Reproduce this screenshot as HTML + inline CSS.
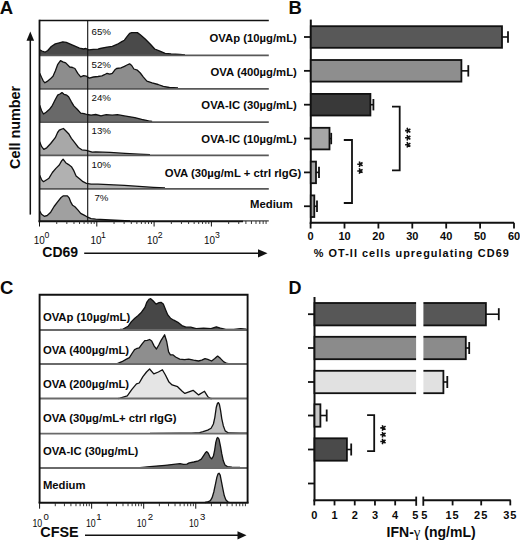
<!DOCTYPE html>
<html><head><meta charset="utf-8"><style>
html,body{margin:0;padding:0;background:#fff;overflow:hidden;width:520px;height:543px;}
svg{display:block;font-family:"Liberation Sans", sans-serif;}
text{fill:#0a0a0a;}
</style></head><body>
<svg width="520" height="543" viewBox="0 0 520 543">
<text x="-0.3" y="13.6" font-size="18.5" font-weight="bold" text-anchor="start" >A</text>
<text x="288.6" y="13.6" font-size="18.5" font-weight="bold" text-anchor="start" >B</text>
<text x="0" y="294" font-size="18.5" font-weight="bold" text-anchor="start" >C</text>
<text x="288.6" y="294" font-size="18" font-weight="bold" text-anchor="start" >D</text>
<path d="M39.7,55.4 L39.7,49.9 L42.0,51.0 L44.9,52.2 L47.8,50.5 L51.3,46.5 L55.3,43.9 L59.3,42.8 L62.8,41.8 L66.3,42.4 L70.3,44.1 L74.9,46.2 L79.5,48.2 L83.6,49.0 L85.9,48.5 L88.7,49.9 L93.4,49.3 L98.0,49.1 L100.2,48.5 L107.1,47.1 L112.3,46.4 L117.5,44.2 L121.8,41.6 L124.4,40.2 L127.0,36.7 L129.6,33.3 L131.7,32.6 L137.4,32.6 L140.3,34.7 L145.2,39.0 L150.4,44.2 L154.7,49.0 L159.9,51.1 L165.1,53.3 L171.1,54.0 L179.8,54.5 L185.0,55.0 L185.0,55.4 Z" fill="#4a4a4a" stroke="none"/>
<path d="M39.7,49.9 L42.0,51.0 L44.9,52.2 L47.8,50.5 L51.3,46.5 L55.3,43.9 L59.3,42.8 L62.8,41.8 L66.3,42.4 L70.3,44.1 L74.9,46.2 L79.5,48.2 L83.6,49.0 L85.9,48.5 L88.7,49.9 L93.4,49.3 L98.0,49.1 L100.2,48.5 L107.1,47.1 L112.3,46.4 L117.5,44.2 L121.8,41.6 L124.4,40.2 L127.0,36.7 L129.6,33.3 L131.7,32.6 L137.4,32.6 L140.3,34.7 L145.2,39.0 L150.4,44.2 L154.7,49.0 L159.9,51.1 L165.1,53.3 L171.1,54.0 L179.8,54.5 L185.0,55.0" fill="none" stroke="#111" stroke-width="1.3" stroke-linejoin="round"/>
<path d="M39.7,88.8 L39.7,73.3 L41.5,77.3 L43.2,80.8 L44.9,82.8 L47.2,81.4 L50.1,79.1 L53.0,76.2 L55.3,71.0 L57.6,64.7 L60.5,60.6 L62.8,61.8 L65.7,62.9 L69.7,67.0 L72.6,67.5 L74.9,68.5 L77.8,73.3 L80.7,76.8 L83.6,75.6 L86.4,76.2 L89.3,78.1 L93.4,77.0 L98.0,76.5 L101.9,75.9 L104.5,74.7 L107.1,73.3 L109.7,74.2 L112.3,73.3 L114.9,69.8 L116.6,68.5 L121.0,67.8 L124.4,66.4 L127.0,65.0 L129.6,63.8 L131.7,65.5 L133.9,69.0 L137.4,70.2 L140.3,73.0 L143.4,77.1 L146.9,81.1 L152.1,82.8 L158.1,84.5 L163.3,86.3 L169.4,87.5 L178.0,88.0 L178.0,88.8 Z" fill="#8d8d8d" stroke="none"/>
<path d="M39.7,73.3 L41.5,77.3 L43.2,80.8 L44.9,82.8 L47.2,81.4 L50.1,79.1 L53.0,76.2 L55.3,71.0 L57.6,64.7 L60.5,60.6 L62.8,61.8 L65.7,62.9 L69.7,67.0 L72.6,67.5 L74.9,68.5 L77.8,73.3 L80.7,76.8 L83.6,75.6 L86.4,76.2 L89.3,78.1 L93.4,77.0 L98.0,76.5 L101.9,75.9 L104.5,74.7 L107.1,73.3 L109.7,74.2 L112.3,73.3 L114.9,69.8 L116.6,68.5 L121.0,67.8 L124.4,66.4 L127.0,65.0 L129.6,63.8 L131.7,65.5 L133.9,69.0 L137.4,70.2 L140.3,73.0 L143.4,77.1 L146.9,81.1 L152.1,82.8 L158.1,84.5 L163.3,86.3 L169.4,87.5 L178.0,88.0" fill="none" stroke="#111" stroke-width="1.3" stroke-linejoin="round"/>
<path d="M39.7,122.1 L39.7,105.3 L41.5,110.5 L43.5,114.0 L46.1,112.2 L49.5,109.3 L52.4,105.3 L55.3,99.5 L57.6,95.2 L59.9,94.0 L62.0,92.6 L64.0,94.3 L66.8,95.2 L68.6,96.7 L71.4,101.8 L73.8,105.9 L77.2,109.3 L80.7,113.1 L84.1,113.6 L87.0,114.5 L91.1,115.1 L95.7,114.5 L101.0,115.9 L106.2,114.7 L112.3,115.2 L117.5,114.7 L124.4,115.9 L134.8,117.6 L141.7,119.4 L148.6,120.8 L152.1,121.3 L152.1,122.1 Z" fill="#696969" stroke="none"/>
<path d="M39.7,105.3 L41.5,110.5 L43.5,114.0 L46.1,112.2 L49.5,109.3 L52.4,105.3 L55.3,99.5 L57.6,95.2 L59.9,94.0 L62.0,92.6 L64.0,94.3 L66.8,95.2 L68.6,96.7 L71.4,101.8 L73.8,105.9 L77.2,109.3 L80.7,113.1 L84.1,113.6 L87.0,114.5 L91.1,115.1 L95.7,114.5 L101.0,115.9 L106.2,114.7 L112.3,115.2 L117.5,114.7 L124.4,115.9 L134.8,117.6 L141.7,119.4 L148.6,120.8 L152.1,121.3" fill="none" stroke="#111" stroke-width="1.3" stroke-linejoin="round"/>
<path d="M39.7,155.4 L39.7,141.8 L41.5,146.4 L43.8,149.3 L46.7,147.8 L50.7,143.5 L55.3,137.7 L57.6,132.5 L59.3,130.2 L61.1,129.3 L63.4,128.5 L65.7,130.8 L68.6,133.7 L71.4,138.3 L74.9,142.9 L78.4,147.5 L81.8,149.8 L86.4,150.4 L92.2,152.1 L95.7,151.9 L110.0,152.3 L125.0,153.4 L139.0,154.2 L150.0,154.6 L150.0,155.4 Z" fill="#a8a8a8" stroke="none"/>
<path d="M39.7,141.8 L41.5,146.4 L43.8,149.3 L46.7,147.8 L50.7,143.5 L55.3,137.7 L57.6,132.5 L59.3,130.2 L61.1,129.3 L63.4,128.5 L65.7,130.8 L68.6,133.7 L71.4,138.3 L74.9,142.9 L78.4,147.5 L81.8,149.8 L86.4,150.4 L92.2,152.1 L95.7,151.9 L110.0,152.3 L125.0,153.4 L139.0,154.2 L150.0,154.6" fill="none" stroke="#111" stroke-width="1.3" stroke-linejoin="round"/>
<path d="M39.7,188.8 L39.7,175.3 L41.5,179.6 L43.5,181.7 L49.0,178.2 L52.4,172.5 L55.9,168.4 L59.3,165.0 L61.6,160.9 L63.1,159.2 L65.7,162.7 L68.6,164.6 L71.4,166.7 L73.8,170.7 L76.1,175.9 L79.5,178.8 L83.0,181.7 L86.4,183.4 L91.1,184.2 L98.0,184.2 L124.5,185.4 L153.4,187.3 L165.0,188.0 L165.0,188.8 Z" fill="#b1b1b1" stroke="none"/>
<path d="M39.7,175.3 L41.5,179.6 L43.5,181.7 L49.0,178.2 L52.4,172.5 L55.9,168.4 L59.3,165.0 L61.6,160.9 L63.1,159.2 L65.7,162.7 L68.6,164.6 L71.4,166.7 L73.8,170.7 L76.1,175.9 L79.5,178.8 L83.0,181.7 L86.4,183.4 L91.1,184.2 L98.0,184.2 L124.5,185.4 L153.4,187.3 L165.0,188.0" fill="none" stroke="#111" stroke-width="1.3" stroke-linejoin="round"/>
<path d="M39.7,221.2 L39.7,211.1 L41.5,214.3 L44.3,216.3 L47.2,215.5 L50.7,212.2 L54.1,206.5 L57.6,201.8 L61.1,197.5 L63.4,195.8 L67.4,195.8 L69.1,197.8 L70.9,202.4 L72.6,205.3 L74.9,206.7 L77.8,209.9 L80.7,213.4 L84.1,215.1 L87.0,216.8 L91.1,218.6 L95.7,219.1 L110.0,220.0 L130.0,221.0 L130.0,221.2 Z" fill="#a0a0a0" stroke="none"/>
<path d="M39.7,211.1 L41.5,214.3 L44.3,216.3 L47.2,215.5 L50.7,212.2 L54.1,206.5 L57.6,201.8 L61.1,197.5 L63.4,195.8 L67.4,195.8 L69.1,197.8 L70.9,202.4 L72.6,205.3 L74.9,206.7 L77.8,209.9 L80.7,213.4 L84.1,215.1 L87.0,216.8 L91.1,218.6 L95.7,219.1 L110.0,220.0 L130.0,221.0" fill="none" stroke="#111" stroke-width="1.3" stroke-linejoin="round"/>
<line x1="39.5" y1="55.4" x2="268.8" y2="55.4" stroke="#585858" stroke-width="1.8"/>
<line x1="39.5" y1="88.8" x2="268.8" y2="88.8" stroke="#585858" stroke-width="1.8"/>
<line x1="39.5" y1="122.1" x2="268.8" y2="122.1" stroke="#585858" stroke-width="1.8"/>
<line x1="39.5" y1="155.4" x2="268.8" y2="155.4" stroke="#585858" stroke-width="1.8"/>
<line x1="39.5" y1="188.8" x2="268.8" y2="188.8" stroke="#585858" stroke-width="1.8"/>
<line x1="39.5" y1="20.5" x2="268.8" y2="20.5" stroke="#111" stroke-width="1.6"/>
<line x1="39.5" y1="19.7" x2="39.5" y2="222.2" stroke="#111" stroke-width="1.8"/>
<line x1="38.6" y1="221.2" x2="243" y2="221.2" stroke="#111" stroke-width="2"/>
<line x1="243" y1="220.89999999999998" x2="268.8" y2="220.89999999999998" stroke="#333" stroke-width="1.2"/>
<line x1="87.7" y1="20.5" x2="87.7" y2="221.2" stroke="#111" stroke-width="1.1"/>
<text x="91.5" y="34.8" font-size="9.7" font-weight="normal" text-anchor="start" >65%</text>
<text x="91.5" y="67.9" font-size="9.7" font-weight="normal" text-anchor="start" >52%</text>
<text x="91.6" y="101" font-size="9.7" font-weight="normal" text-anchor="start" >24%</text>
<text x="91.6" y="133.6" font-size="9.7" font-weight="normal" text-anchor="start" >13%</text>
<text x="91.6" y="167.5" font-size="9.7" font-weight="normal" text-anchor="start" >10%</text>
<text x="94.4" y="200.6" font-size="9.7" font-weight="normal" text-anchor="start" >7%</text>
<text x="296.8" y="42.2" font-size="11.3" font-weight="bold" text-anchor="end" >OVAp (10&#181;g/mL)</text>
<text x="296.8" y="76.3" font-size="11.3" font-weight="bold" text-anchor="end" >OVA (400&#181;g/mL)</text>
<text x="296.8" y="108.8" font-size="11.3" font-weight="bold" text-anchor="end" >OVA-IC (30&#181;g/mL)</text>
<text x="296.8" y="143.1" font-size="11.3" font-weight="bold" text-anchor="end" >OVA-IC (10&#181;g/mL)</text>
<text x="301.2" y="177.4" font-size="11.3" font-weight="bold" text-anchor="end" >OVA (30&#181;g/mL + ctrl rIgG)</text>
<text x="292.8" y="208.1" font-size="11.3" font-weight="bold" text-anchor="end" >Medium</text>
<line x1="39.5" y1="221" x2="39.5" y2="226.5" stroke="#111" stroke-width="1"/>
<line x1="56.74901875154612" y1="221" x2="56.74901875154612" y2="224" stroke="#222" stroke-width="0.9"/>
<line x1="66.83904789543666" y1="221" x2="66.83904789543666" y2="224" stroke="#222" stroke-width="0.9"/>
<line x1="73.99803750309223" y1="221" x2="73.99803750309223" y2="224" stroke="#222" stroke-width="0.9"/>
<line x1="79.55098124845388" y1="221" x2="79.55098124845388" y2="224" stroke="#222" stroke-width="0.9"/>
<line x1="84.08806664698278" y1="221" x2="84.08806664698278" y2="224" stroke="#222" stroke-width="0.9"/>
<line x1="87.9241176928169" y1="221" x2="87.9241176928169" y2="224" stroke="#222" stroke-width="0.9"/>
<line x1="91.24705625463835" y1="221" x2="91.24705625463835" y2="224" stroke="#222" stroke-width="0.9"/>
<line x1="94.17809579087331" y1="221" x2="94.17809579087331" y2="224" stroke="#222" stroke-width="0.9"/>
<line x1="96.8" y1="221" x2="96.8" y2="226.5" stroke="#111" stroke-width="1"/>
<line x1="114.04901875154613" y1="221" x2="114.04901875154613" y2="224" stroke="#222" stroke-width="0.9"/>
<line x1="124.13904789543665" y1="221" x2="124.13904789543665" y2="224" stroke="#222" stroke-width="0.9"/>
<line x1="131.29803750309225" y1="221" x2="131.29803750309225" y2="224" stroke="#222" stroke-width="0.9"/>
<line x1="136.85098124845388" y1="221" x2="136.85098124845388" y2="224" stroke="#222" stroke-width="0.9"/>
<line x1="141.3880666469828" y1="221" x2="141.3880666469828" y2="224" stroke="#222" stroke-width="0.9"/>
<line x1="145.22411769281692" y1="221" x2="145.22411769281692" y2="224" stroke="#222" stroke-width="0.9"/>
<line x1="148.54705625463836" y1="221" x2="148.54705625463836" y2="224" stroke="#222" stroke-width="0.9"/>
<line x1="151.47809579087328" y1="221" x2="151.47809579087328" y2="224" stroke="#222" stroke-width="0.9"/>
<line x1="154.1" y1="221" x2="154.1" y2="226.5" stroke="#111" stroke-width="1"/>
<line x1="171.3490187515461" y1="221" x2="171.3490187515461" y2="224" stroke="#222" stroke-width="0.9"/>
<line x1="181.43904789543666" y1="221" x2="181.43904789543666" y2="224" stroke="#222" stroke-width="0.9"/>
<line x1="188.59803750309226" y1="221" x2="188.59803750309226" y2="224" stroke="#222" stroke-width="0.9"/>
<line x1="194.15098124845386" y1="221" x2="194.15098124845386" y2="224" stroke="#222" stroke-width="0.9"/>
<line x1="198.68806664698278" y1="221" x2="198.68806664698278" y2="224" stroke="#222" stroke-width="0.9"/>
<line x1="202.5241176928169" y1="221" x2="202.5241176928169" y2="224" stroke="#222" stroke-width="0.9"/>
<line x1="205.84705625463837" y1="221" x2="205.84705625463837" y2="224" stroke="#222" stroke-width="0.9"/>
<line x1="208.7780957908733" y1="221" x2="208.7780957908733" y2="224" stroke="#222" stroke-width="0.9"/>
<line x1="211.39999999999998" y1="221" x2="211.39999999999998" y2="226.5" stroke="#111" stroke-width="1"/>
<line x1="228.64901875154612" y1="221" x2="228.64901875154612" y2="224" stroke="#222" stroke-width="0.9"/>
<line x1="238.73904789543667" y1="221" x2="238.73904789543667" y2="224" stroke="#222" stroke-width="0.9"/>
<line x1="245.89803750309224" y1="221" x2="245.89803750309224" y2="224" stroke="#222" stroke-width="0.9"/>
<line x1="251.45098124845387" y1="221" x2="251.45098124845387" y2="224" stroke="#222" stroke-width="0.9"/>
<line x1="255.9880666469828" y1="221" x2="255.9880666469828" y2="224" stroke="#222" stroke-width="0.9"/>
<line x1="259.8241176928169" y1="221" x2="259.8241176928169" y2="224" stroke="#222" stroke-width="0.9"/>
<line x1="263.14705625463836" y1="221" x2="263.14705625463836" y2="224" stroke="#222" stroke-width="0.9"/>
<line x1="266.0780957908733" y1="221" x2="266.0780957908733" y2="224" stroke="#222" stroke-width="0.9"/>
<text x="39.20" y="244.2" font-size="10" text-anchor="middle" textLength="11.0" lengthAdjust="spacingAndGlyphs">10</text>
<text x="44.55" y="238.1" font-size="8.7">0</text>
<text x="96.10" y="244.2" font-size="10" text-anchor="middle" textLength="11.0" lengthAdjust="spacingAndGlyphs">10</text>
<text x="100.93" y="238.1" font-size="8.7">1</text>
<text x="152.50" y="244.2" font-size="10" text-anchor="middle" textLength="11.0" lengthAdjust="spacingAndGlyphs">10</text>
<text x="157.64" y="238.1" font-size="8.7">2</text>
<text x="209.60" y="244.2" font-size="10" text-anchor="middle" textLength="11.0" lengthAdjust="spacingAndGlyphs">10</text>
<text x="214.95" y="238.1" font-size="8.7">3</text>
<text x="42.3" y="257.3" font-size="14" font-weight="bold" text-anchor="start" >CD69</text>
<line x1="84.2" y1="253.3" x2="260" y2="253.3" stroke="#111" stroke-width="1.5"/>
<path d="M258,249.2 L267.5,253.3 L258,257.4 Z" fill="#111"/>
<text x="0" y="0" font-size="14.4" font-weight="bold" text-anchor="middle" transform="translate(19.9,127.4) rotate(-90)">Cell number</text>
<line x1="30.3" y1="40" x2="30.3" y2="214.6" stroke="#111" stroke-width="1.5"/>
<path d="M26.5,40.8 L30.3,31.5 L34.1,40.8 Z" fill="#111"/>
<line x1="310.8" y1="19.6" x2="310.8" y2="223.7" stroke="#111" stroke-width="2"/>
<line x1="309.8" y1="222.7" x2="514" y2="222.7" stroke="#111" stroke-width="2"/>
<line x1="310.6" y1="222.7" x2="310.6" y2="228.5" stroke="#111" stroke-width="1.8"/>
<text x="310.6" y="240.3" font-size="11" font-weight="bold" text-anchor="middle" >0</text>
<line x1="344.5" y1="222.7" x2="344.5" y2="228.5" stroke="#111" stroke-width="1.8"/>
<text x="344.5" y="240.3" font-size="11" font-weight="bold" text-anchor="middle" >10</text>
<line x1="378.40000000000003" y1="222.7" x2="378.40000000000003" y2="228.5" stroke="#111" stroke-width="1.8"/>
<text x="378.40000000000003" y="240.3" font-size="11" font-weight="bold" text-anchor="middle" >20</text>
<line x1="412.3" y1="222.7" x2="412.3" y2="228.5" stroke="#111" stroke-width="1.8"/>
<text x="412.3" y="240.3" font-size="11" font-weight="bold" text-anchor="middle" >30</text>
<line x1="446.20000000000005" y1="222.7" x2="446.20000000000005" y2="228.5" stroke="#111" stroke-width="1.8"/>
<text x="446.20000000000005" y="240.3" font-size="11" font-weight="bold" text-anchor="middle" >40</text>
<line x1="480.1" y1="222.7" x2="480.1" y2="228.5" stroke="#111" stroke-width="1.8"/>
<text x="480.1" y="240.3" font-size="11" font-weight="bold" text-anchor="middle" >50</text>
<line x1="514.0" y1="222.7" x2="514.0" y2="228.5" stroke="#111" stroke-width="1.8"/>
<text x="514.0" y="240.3" font-size="11" font-weight="bold" text-anchor="middle" >60</text>
<line x1="304" y1="37.0" x2="310.8" y2="37.0" stroke="#111" stroke-width="1.8"/>
<rect x="310.8" y="26.2" width="191.2" height="21.6" fill="#585858" stroke="#111" stroke-width="1.8"/>
<line x1="502" y1="37.0" x2="508" y2="37.0" stroke="#111" stroke-width="1.6"/>
<line x1="508" y1="31.3" x2="508" y2="42.7" stroke="#111" stroke-width="1.8"/>
<line x1="304" y1="70.85" x2="310.8" y2="70.85" stroke="#111" stroke-width="1.8"/>
<rect x="310.8" y="60.0" width="150.6" height="21.6" fill="#8e8e8e" stroke="#111" stroke-width="1.8"/>
<line x1="461.4" y1="70.85" x2="468.3" y2="70.85" stroke="#111" stroke-width="1.6"/>
<line x1="468.3" y1="65.14999999999999" x2="468.3" y2="76.55" stroke="#111" stroke-width="1.8"/>
<line x1="304" y1="104.7" x2="310.8" y2="104.7" stroke="#111" stroke-width="1.8"/>
<rect x="310.8" y="93.9" width="59.6" height="21.6" fill="#393939" stroke="#111" stroke-width="1.8"/>
<line x1="370.4" y1="104.7" x2="373.4" y2="104.7" stroke="#111" stroke-width="1.6"/>
<line x1="373.4" y1="99.0" x2="373.4" y2="110.4" stroke="#111" stroke-width="1.8"/>
<line x1="304" y1="138.55" x2="310.8" y2="138.55" stroke="#111" stroke-width="1.8"/>
<rect x="310.8" y="127.8" width="18.7" height="21.6" fill="#a6a6a6" stroke="#111" stroke-width="1.8"/>
<line x1="329.5" y1="138.55" x2="331.2" y2="138.55" stroke="#111" stroke-width="1.6"/>
<line x1="331.2" y1="132.85000000000002" x2="331.2" y2="144.25" stroke="#111" stroke-width="1.8"/>
<line x1="304" y1="172.4" x2="310.8" y2="172.4" stroke="#111" stroke-width="1.8"/>
<rect x="310.8" y="161.6" width="5.2" height="21.6" fill="#a6a6a6" stroke="#111" stroke-width="1.8"/>
<line x1="316" y1="172.4" x2="319" y2="172.4" stroke="#111" stroke-width="1.6"/>
<line x1="319" y1="166.70000000000002" x2="319" y2="178.1" stroke="#111" stroke-width="1.8"/>
<line x1="304" y1="206.25" x2="310.8" y2="206.25" stroke="#111" stroke-width="1.8"/>
<rect x="310.8" y="195.4" width="3.5" height="21.6" fill="#a6a6a6" stroke="#111" stroke-width="1.8"/>
<line x1="314.3" y1="206.25" x2="317" y2="206.25" stroke="#111" stroke-width="1.6"/>
<line x1="317" y1="200.55" x2="317" y2="211.95" stroke="#111" stroke-width="1.8"/>
<path d="M392,106.6 L399.7,106.6 L399.7,170.3 L392,170.3" fill="none" stroke="#111" stroke-width="1.8"/>
<path d="M343.8,140 L352,140 L352,203 L343.8,203" fill="none" stroke="#111" stroke-width="1.8"/>
<path d="M408.00,130.60 L405.10,130.60 M408.00,130.60 L407.10,127.84 M408.00,130.60 L410.35,128.90 M408.00,130.60 L410.35,132.30 M408.00,130.60 L407.10,133.36 " stroke="#111" stroke-width="1.6" stroke-linecap="butt" fill="none"/>
<path d="M408.00,137.70 L405.10,137.70 M408.00,137.70 L407.10,134.94 M408.00,137.70 L410.35,136.00 M408.00,137.70 L410.35,139.40 M408.00,137.70 L407.10,140.46 " stroke="#111" stroke-width="1.6" stroke-linecap="butt" fill="none"/>
<path d="M408.00,144.80 L405.10,144.80 M408.00,144.80 L407.10,142.04 M408.00,144.80 L410.35,143.10 M408.00,144.80 L410.35,146.50 M408.00,144.80 L407.10,147.56 " stroke="#111" stroke-width="1.6" stroke-linecap="butt" fill="none"/>
<path d="M360.20,164.20 L357.30,164.20 M360.20,164.20 L359.30,161.44 M360.20,164.20 L362.55,162.50 M360.20,164.20 L362.55,165.90 M360.20,164.20 L359.30,166.96 " stroke="#111" stroke-width="1.6" stroke-linecap="butt" fill="none"/>
<path d="M360.20,171.00 L357.30,171.00 M360.20,171.00 L359.30,168.24 M360.20,171.00 L362.55,169.30 M360.20,171.00 L362.55,172.70 M360.20,171.00 L359.30,173.76 " stroke="#111" stroke-width="1.6" stroke-linecap="butt" fill="none"/>
<text x="313.8" y="257.3" font-size="10.9" font-weight="bold" text-anchor="start" textLength="195" lengthAdjust="spacing">% OT-II cells upregulating CD69</text>
<path d="M120.0,330.0 L120.0,329.5 L122.7,329.3 L128.1,326.3 L131.4,321.6 L134.8,318.2 L138.2,315.5 L141.5,312.2 L144.9,307.5 L146.9,302.1 L148.9,299.4 L150.7,298.7 L153.0,300.7 L156.1,304.1 L159.0,302.7 L161.0,302.3 L163.3,304.1 L165.8,310.2 L167.8,314.9 L170.5,318.2 L173.8,320.2 L177.9,322.3 L181.9,325.6 L186.0,327.2 L190.8,327.2 L196.2,328.6 L203.6,328.2 L211.0,328.6 L216.3,326.8 L220.4,328.2 L225.8,329.5 L233.8,329.5 L240.6,328.6 L246.0,329.2 L247.8,329.3 L247.8,330.0 Z" fill="#474747" stroke="none"/>
<path d="M120.0,329.5 L122.7,329.3 L128.1,326.3 L131.4,321.6 L134.8,318.2 L138.2,315.5 L141.5,312.2 L144.9,307.5 L146.9,302.1 L148.9,299.4 L150.7,298.7 L153.0,300.7 L156.1,304.1 L159.0,302.7 L161.0,302.3 L163.3,304.1 L165.8,310.2 L167.8,314.9 L170.5,318.2 L173.8,320.2 L177.9,322.3 L181.9,325.6 L186.0,327.2 L190.8,327.2 L196.2,328.6 L203.6,328.2 L211.0,328.6 L216.3,326.8 L220.4,328.2 L225.8,329.5 L233.8,329.5 L240.6,328.6 L246.0,329.2 L247.8,329.3" fill="none" stroke="#111" stroke-width="1.3" stroke-linejoin="round"/>
<path d="M115.0,364.0 L115.0,364.1 L117.3,363.7 L121.9,361.7 L126.0,359.4 L129.4,357.7 L132.3,353.0 L134.6,349.6 L136.3,348.7 L139.2,347.9 L142.1,343.8 L144.8,340.6 L147.3,340.4 L149.6,339.5 L151.7,341.0 L154.2,346.1 L156.5,349.0 L158.8,345.0 L161.1,340.4 L164.6,334.8 L166.7,341.5 L168.6,351.9 L170.4,354.8 L172.8,354.8 L175.6,357.0 L179.7,359.1 L184.6,359.7 L188.7,359.1 L193.6,360.2 L198.5,361.0 L201.8,360.2 L205.0,358.6 L207.8,359.4 L211.6,361.0 L214.8,358.6 L217.6,356.1 L220.6,358.6 L223.8,361.9 L227.1,363.5 L230.4,364.0 L247.8,363.9 L247.8,364.0 Z" fill="#8e8e8e" stroke="none"/>
<path d="M115.0,364.1 L117.3,363.7 L121.9,361.7 L126.0,359.4 L129.4,357.7 L132.3,353.0 L134.6,349.6 L136.3,348.7 L139.2,347.9 L142.1,343.8 L144.8,340.6 L147.3,340.4 L149.6,339.5 L151.7,341.0 L154.2,346.1 L156.5,349.0 L158.8,345.0 L161.1,340.4 L164.6,334.8 L166.7,341.5 L168.6,351.9 L170.4,354.8 L172.8,354.8 L175.6,357.0 L179.7,359.1 L184.6,359.7 L188.7,359.1 L193.6,360.2 L198.5,361.0 L201.8,360.2 L205.0,358.6 L207.8,359.4 L211.6,361.0 L214.8,358.6 L217.6,356.1 L220.6,358.6 L223.8,361.9 L227.1,363.5 L230.4,364.0 L247.8,363.9" fill="none" stroke="#111" stroke-width="1.3" stroke-linejoin="round"/>
<path d="M118.0,398.5 L118.0,398.6 L120.0,398.2 L127.3,395.8 L131.9,389.4 L136.5,383.9 L139.2,383.0 L142.9,376.6 L146.5,372.0 L149.6,369.0 L153.8,373.9 L158.4,372.0 L162.4,369.7 L165.3,374.8 L169.0,382.1 L172.1,384.9 L177.6,386.7 L182.2,391.3 L184.9,393.4 L193.1,390.3 L198.6,394.9 L204.5,391.3 L207.8,396.7 L210.5,398.5 L212.0,398.6 L212.0,398.5 Z" fill="#e5e5e5" stroke="none"/>
<path d="M118.0,398.6 L120.0,398.2 L127.3,395.8 L131.9,389.4 L136.5,383.9 L139.2,383.0 L142.9,376.6 L146.5,372.0 L149.6,369.0 L153.8,373.9 L158.4,372.0 L162.4,369.7 L165.3,374.8 L169.0,382.1 L172.1,384.9 L177.6,386.7 L182.2,391.3 L184.9,393.4 L193.1,390.3 L198.6,394.9 L204.5,391.3 L207.8,396.7 L210.5,398.5 L212.0,398.6" fill="none" stroke="#111" stroke-width="1.3" stroke-linejoin="round"/>
<path d="M150.0,433.6 L150.0,433.3 L180.0,433.2 L191.5,433.2 L199.6,432.6 L203.1,431.7 L207.7,430.1 L211.1,428.2 L213.4,424.0 L214.8,417.6 L216.3,407.2 L217.5,403.2 L218.4,402.6 L219.4,404.3 L220.6,410.7 L221.8,418.8 L223.3,425.7 L225.2,430.9 L228.4,433.0 L240.0,433.2 L247.8,433.2 L247.8,433.6 Z" fill="#c0c0c0" stroke="none"/>
<path d="M150.0,433.3 L180.0,433.2 L191.5,433.2 L199.6,432.6 L203.1,431.7 L207.7,430.1 L211.1,428.2 L213.4,424.0 L214.8,417.6 L216.3,407.2 L217.5,403.2 L218.4,402.6 L219.4,404.3 L220.6,410.7 L221.8,418.8 L223.3,425.7 L225.2,430.9 L228.4,433.0 L240.0,433.2 L247.8,433.2" fill="none" stroke="#111" stroke-width="1.3" stroke-linejoin="round"/>
<path d="M135.0,468.0 L135.0,468.1 L150.0,466.6 L165.0,465.3 L180.0,463.7 L183.5,464.3 L186.9,464.1 L189.2,462.9 L193.8,462.0 L198.5,460.8 L201.3,459.1 L203.6,455.6 L205.4,452.8 L206.8,451.6 L208.3,453.3 L210.2,457.4 L211.7,458.8 L213.4,456.2 L214.6,450.5 L215.8,442.4 L216.9,438.3 L217.8,437.5 L219.0,439.2 L220.4,445.8 L221.8,453.9 L223.3,460.8 L225.0,464.9 L227.3,466.6 L231.9,467.2 L240.0,467.5 L247.8,467.6 L247.8,468.0 Z" fill="#6c6c6c" stroke="none"/>
<path d="M135.0,468.1 L150.0,466.6 L165.0,465.3 L180.0,463.7 L183.5,464.3 L186.9,464.1 L189.2,462.9 L193.8,462.0 L198.5,460.8 L201.3,459.1 L203.6,455.6 L205.4,452.8 L206.8,451.6 L208.3,453.3 L210.2,457.4 L211.7,458.8 L213.4,456.2 L214.6,450.5 L215.8,442.4 L216.9,438.3 L217.8,437.5 L219.0,439.2 L220.4,445.8 L221.8,453.9 L223.3,460.8 L225.0,464.9 L227.3,466.6 L231.9,467.2 L240.0,467.5 L247.8,467.6" fill="none" stroke="#111" stroke-width="1.3" stroke-linejoin="round"/>
<path d="M205.0,502.7 L205.0,502.5 L207.5,502.0 L210.4,500.6 L212.1,497.7 L213.8,492.0 L215.4,484.3 L216.9,477.1 L218.1,473.7 L219.0,473.2 L220.2,475.1 L221.4,481.4 L222.9,489.1 L224.3,495.8 L225.8,499.7 L227.7,501.8 L229.6,502.5 L229.6,502.7 Z" fill="#9e9e9e" stroke="none"/>
<path d="M205.0,502.5 L207.5,502.0 L210.4,500.6 L212.1,497.7 L213.8,492.0 L215.4,484.3 L216.9,477.1 L218.1,473.7 L219.0,473.2 L220.2,475.1 L221.4,481.4 L222.9,489.1 L224.3,495.8 L225.8,499.7 L227.7,501.8 L229.6,502.5" fill="none" stroke="#111" stroke-width="1.3" stroke-linejoin="round"/>
<line x1="39.6" y1="330.0" x2="247.6" y2="330.0" stroke="#6a6a6a" stroke-width="1.8"/>
<line x1="39.6" y1="364.0" x2="247.6" y2="364.0" stroke="#6a6a6a" stroke-width="1.8"/>
<line x1="39.6" y1="398.5" x2="247.6" y2="398.5" stroke="#6a6a6a" stroke-width="1.8"/>
<line x1="39.6" y1="433.6" x2="247.6" y2="433.6" stroke="#6a6a6a" stroke-width="1.8"/>
<line x1="39.6" y1="468.0" x2="247.6" y2="468.0" stroke="#6a6a6a" stroke-width="1.8"/>
<path d="M39.6,502.7 L39.6,294.8 L247.6,294.8 L247.6,502.7" fill="none" stroke="#111" stroke-width="1.9"/>
<line x1="38.6" y1="502.7" x2="248.6" y2="502.7" stroke="#111" stroke-width="2"/>
<line x1="39.6" y1="502.7" x2="39.6" y2="508.7" stroke="#111" stroke-width="1"/>
<line x1="55.268611274310224" y1="502.7" x2="55.268611274310224" y2="506.2" stroke="#222" stroke-width="0.9"/>
<line x1="64.43416130815842" y1="502.7" x2="64.43416130815842" y2="506.2" stroke="#222" stroke-width="0.9"/>
<line x1="70.93722254862044" y1="502.7" x2="70.93722254862044" y2="506.2" stroke="#222" stroke-width="0.9"/>
<line x1="75.98138872568978" y1="502.7" x2="75.98138872568978" y2="506.2" stroke="#222" stroke-width="0.9"/>
<line x1="80.10277258246865" y1="502.7" x2="80.10277258246865" y2="506.2" stroke="#222" stroke-width="0.9"/>
<line x1="83.58735298274206" y1="502.7" x2="83.58735298274206" y2="506.2" stroke="#222" stroke-width="0.9"/>
<line x1="86.60583382293066" y1="502.7" x2="86.60583382293066" y2="506.2" stroke="#222" stroke-width="0.9"/>
<line x1="89.26832261631685" y1="502.7" x2="89.26832261631685" y2="506.2" stroke="#222" stroke-width="0.9"/>
<line x1="91.65" y1="502.7" x2="91.65" y2="508.7" stroke="#111" stroke-width="1"/>
<line x1="107.31861127431023" y1="502.7" x2="107.31861127431023" y2="506.2" stroke="#222" stroke-width="0.9"/>
<line x1="116.48416130815843" y1="502.7" x2="116.48416130815843" y2="506.2" stroke="#222" stroke-width="0.9"/>
<line x1="122.98722254862045" y1="502.7" x2="122.98722254862045" y2="506.2" stroke="#222" stroke-width="0.9"/>
<line x1="128.03138872568977" y1="502.7" x2="128.03138872568977" y2="506.2" stroke="#222" stroke-width="0.9"/>
<line x1="132.15277258246866" y1="502.7" x2="132.15277258246866" y2="506.2" stroke="#222" stroke-width="0.9"/>
<line x1="135.63735298274207" y1="502.7" x2="135.63735298274207" y2="506.2" stroke="#222" stroke-width="0.9"/>
<line x1="138.65583382293065" y1="502.7" x2="138.65583382293065" y2="506.2" stroke="#222" stroke-width="0.9"/>
<line x1="141.31832261631686" y1="502.7" x2="141.31832261631686" y2="506.2" stroke="#222" stroke-width="0.9"/>
<line x1="143.7" y1="502.7" x2="143.7" y2="508.7" stroke="#111" stroke-width="1"/>
<line x1="159.3686112743102" y1="502.7" x2="159.3686112743102" y2="506.2" stroke="#222" stroke-width="0.9"/>
<line x1="168.53416130815842" y1="502.7" x2="168.53416130815842" y2="506.2" stroke="#222" stroke-width="0.9"/>
<line x1="175.03722254862043" y1="502.7" x2="175.03722254862043" y2="506.2" stroke="#222" stroke-width="0.9"/>
<line x1="180.08138872568975" y1="502.7" x2="180.08138872568975" y2="506.2" stroke="#222" stroke-width="0.9"/>
<line x1="184.20277258246864" y1="502.7" x2="184.20277258246864" y2="506.2" stroke="#222" stroke-width="0.9"/>
<line x1="187.68735298274206" y1="502.7" x2="187.68735298274206" y2="506.2" stroke="#222" stroke-width="0.9"/>
<line x1="190.70583382293066" y1="502.7" x2="190.70583382293066" y2="506.2" stroke="#222" stroke-width="0.9"/>
<line x1="193.36832261631685" y1="502.7" x2="193.36832261631685" y2="506.2" stroke="#222" stroke-width="0.9"/>
<line x1="195.74999999999997" y1="502.7" x2="195.74999999999997" y2="508.7" stroke="#111" stroke-width="1"/>
<line x1="211.41861127431022" y1="502.7" x2="211.41861127431022" y2="506.2" stroke="#222" stroke-width="0.9"/>
<line x1="220.58416130815843" y1="502.7" x2="220.58416130815843" y2="506.2" stroke="#222" stroke-width="0.9"/>
<line x1="227.08722254862045" y1="502.7" x2="227.08722254862045" y2="506.2" stroke="#222" stroke-width="0.9"/>
<line x1="232.13138872568976" y1="502.7" x2="232.13138872568976" y2="506.2" stroke="#222" stroke-width="0.9"/>
<line x1="236.25277258246865" y1="502.7" x2="236.25277258246865" y2="506.2" stroke="#222" stroke-width="0.9"/>
<line x1="239.73735298274207" y1="502.7" x2="239.73735298274207" y2="506.2" stroke="#222" stroke-width="0.9"/>
<line x1="242.75583382293067" y1="502.7" x2="242.75583382293067" y2="506.2" stroke="#222" stroke-width="0.9"/>
<line x1="245.41832261631683" y1="502.7" x2="245.41832261631683" y2="506.2" stroke="#222" stroke-width="0.9"/>
<text x="37.35" y="526.8" font-size="10" text-anchor="middle" textLength="9.8" lengthAdjust="spacingAndGlyphs">10</text>
<text x="43.52" y="520.4" font-size="9.6">0</text>
<text x="90.85" y="526.8" font-size="10" text-anchor="middle" textLength="9.8" lengthAdjust="spacingAndGlyphs">10</text>
<text x="96.14" y="520.4" font-size="9.6">1</text>
<text x="141.55" y="526.8" font-size="10" text-anchor="middle" textLength="9.8" lengthAdjust="spacingAndGlyphs">10</text>
<text x="147.71" y="520.4" font-size="9.6">2</text>
<text x="193.80" y="526.8" font-size="10" text-anchor="middle" textLength="9.8" lengthAdjust="spacingAndGlyphs">10</text>
<text x="200.02" y="520.4" font-size="9.6">3</text>
<text x="42.9" y="321.3" font-size="11.3" font-weight="bold" text-anchor="start" >OVAp (10&#181;g/mL)</text>
<text x="42.9" y="354.4" font-size="11.3" font-weight="bold" text-anchor="start" >OVA (400&#181;g/mL)</text>
<text x="42.9" y="388" font-size="11.3" font-weight="bold" text-anchor="start" >OVA (200&#181;g/mL)</text>
<text x="42.9" y="421.9" font-size="11.3" font-weight="bold" text-anchor="start" >OVA (30&#181;g/mL+ ctrl rIgG)</text>
<text x="42.9" y="455.1" font-size="11.3" font-weight="bold" text-anchor="start" >OVA-IC (30&#181;g/mL)</text>
<text x="42.9" y="489.2" font-size="11.3" font-weight="bold" text-anchor="start" >Medium</text>
<text x="40.3" y="537.3" font-size="14.4" font-weight="bold" text-anchor="start" >CFSE</text>
<line x1="85" y1="535.3" x2="240" y2="535.3" stroke="#111" stroke-width="1.5"/>
<path d="M237.5,531.2 L246.5,535.3 L237.5,539.4 Z" fill="#111"/>
<line x1="314.5" y1="297" x2="314.5" y2="501.3" stroke="#111" stroke-width="2"/>
<line x1="313.5" y1="500.3" x2="416.2" y2="500.3" stroke="#111" stroke-width="2"/>
<line x1="423.3" y1="500.3" x2="510.8" y2="500.3" stroke="#111" stroke-width="2"/>
<line x1="416.2" y1="496.6" x2="416.2" y2="505.8" stroke="#111" stroke-width="1.8"/>
<line x1="423.3" y1="496.6" x2="423.3" y2="505.8" stroke="#111" stroke-width="1.8"/>
<line x1="314.3" y1="500.3" x2="314.3" y2="505.4" stroke="#111" stroke-width="1.8"/>
<text x="314.3" y="519.2" font-size="11" font-weight="bold" text-anchor="middle" >0</text>
<line x1="334.52" y1="500.3" x2="334.52" y2="505.4" stroke="#111" stroke-width="1.8"/>
<text x="334.52" y="519.2" font-size="11" font-weight="bold" text-anchor="middle" >1</text>
<line x1="354.74" y1="500.3" x2="354.74" y2="505.4" stroke="#111" stroke-width="1.8"/>
<text x="354.74" y="519.2" font-size="11" font-weight="bold" text-anchor="middle" >2</text>
<line x1="374.96000000000004" y1="500.3" x2="374.96000000000004" y2="505.4" stroke="#111" stroke-width="1.8"/>
<text x="374.96000000000004" y="519.2" font-size="11" font-weight="bold" text-anchor="middle" >3</text>
<line x1="395.18" y1="500.3" x2="395.18" y2="505.4" stroke="#111" stroke-width="1.8"/>
<text x="395.18" y="519.2" font-size="11" font-weight="bold" text-anchor="middle" >4</text>
<text x="415.4" y="519.2" font-size="11" font-weight="bold" text-anchor="middle" >5</text>
<line x1="452.6" y1="500.3" x2="452.6" y2="505.4" stroke="#111" stroke-width="1.8"/>
<text x="452.6" y="519.2" font-size="11" font-weight="bold" text-anchor="middle" letter-spacing="1">15</text>
<line x1="481.2" y1="500.3" x2="481.2" y2="505.4" stroke="#111" stroke-width="1.8"/>
<text x="481.2" y="519.2" font-size="11" font-weight="bold" text-anchor="middle" letter-spacing="1">25</text>
<line x1="510.3" y1="500.3" x2="510.3" y2="505.4" stroke="#111" stroke-width="1.8"/>
<text x="510.3" y="519.2" font-size="11" font-weight="bold" text-anchor="middle" letter-spacing="1">35</text>
<text x="424.4" y="519.2" font-size="11" font-weight="bold" text-anchor="middle" >5</text>
<line x1="308" y1="314.2" x2="314.5" y2="314.2" stroke="#111" stroke-width="1.8"/>
<line x1="308" y1="348" x2="314.5" y2="348" stroke="#111" stroke-width="1.8"/>
<line x1="308" y1="382" x2="314.5" y2="382" stroke="#111" stroke-width="1.8"/>
<line x1="308" y1="415.5" x2="314.5" y2="415.5" stroke="#111" stroke-width="1.8"/>
<line x1="308" y1="449.5" x2="314.5" y2="449.5" stroke="#111" stroke-width="1.8"/>
<line x1="308" y1="483.5" x2="314.5" y2="483.5" stroke="#111" stroke-width="1.8"/>
<rect x="314.5" y="303.0" width="171.4" height="22.4" fill="#575757" stroke="#111" stroke-width="1.8"/>
<rect x="416.1" y="301.2" width="7.3" height="26" fill="#fff"/>
<line x1="485.9" y1="314.2" x2="498.8" y2="314.2" stroke="#111" stroke-width="1.6"/>
<line x1="498.8" y1="308.2" x2="498.8" y2="320.2" stroke="#111" stroke-width="1.8"/>
<rect x="314.5" y="336.8" width="151.3" height="22.4" fill="#8b8b8b" stroke="#111" stroke-width="1.8"/>
<rect x="416.1" y="335.0" width="7.3" height="26" fill="#fff"/>
<line x1="465.8" y1="348" x2="469.2" y2="348" stroke="#111" stroke-width="1.6"/>
<line x1="469.2" y1="342" x2="469.2" y2="354" stroke="#111" stroke-width="1.8"/>
<rect x="314.5" y="370.8" width="128.9" height="22.4" fill="#e1e1e1" stroke="#111" stroke-width="1.8"/>
<rect x="416.1" y="369.0" width="7.3" height="26" fill="#fff"/>
<line x1="443.4" y1="382" x2="447.3" y2="382" stroke="#111" stroke-width="1.6"/>
<line x1="447.3" y1="376" x2="447.3" y2="388" stroke="#111" stroke-width="1.8"/>
<rect x="314.5" y="404.3" width="5.9" height="22.4" fill="#c8c8c8" stroke="#111" stroke-width="1.8"/>
<line x1="320.4" y1="415.5" x2="326.7" y2="415.5" stroke="#111" stroke-width="1.6"/>
<line x1="326.7" y1="409.5" x2="326.7" y2="421.5" stroke="#111" stroke-width="1.8"/>
<rect x="314.5" y="438.3" width="32.4" height="22.4" fill="#4a4a4a" stroke="#111" stroke-width="1.8"/>
<line x1="346.9" y1="449.5" x2="351.2" y2="449.5" stroke="#111" stroke-width="1.6"/>
<line x1="351.2" y1="443.5" x2="351.2" y2="455.5" stroke="#111" stroke-width="1.8"/>
<path d="M367.1,415.2 L374.2,415.2 L374.2,451.2 L367.1,451.2" fill="none" stroke="#111" stroke-width="1.8"/>
<path d="M383.20,427.90 L380.30,427.90 M383.20,427.90 L382.30,425.14 M383.20,427.90 L385.55,426.20 M383.20,427.90 L385.55,429.60 M383.20,427.90 L382.30,430.66 " stroke="#111" stroke-width="1.6" stroke-linecap="butt" fill="none"/>
<path d="M383.20,434.70 L380.30,434.70 M383.20,434.70 L382.30,431.94 M383.20,434.70 L385.55,433.00 M383.20,434.70 L385.55,436.40 M383.20,434.70 L382.30,437.46 " stroke="#111" stroke-width="1.6" stroke-linecap="butt" fill="none"/>
<path d="M383.20,441.50 L380.30,441.50 M383.20,441.50 L382.30,438.74 M383.20,441.50 L385.55,439.80 M383.20,441.50 L385.55,443.20 M383.20,441.50 L382.30,444.26 " stroke="#111" stroke-width="1.6" stroke-linecap="butt" fill="none"/>
<text x="386.6" y="537" font-size="14" font-weight="bold">IFN-<tspan font-weight="normal" font-family="Liberation Serif, serif" font-size="15">&#947;</tspan> (ng/mL)</text>
</svg>
</body></html>
